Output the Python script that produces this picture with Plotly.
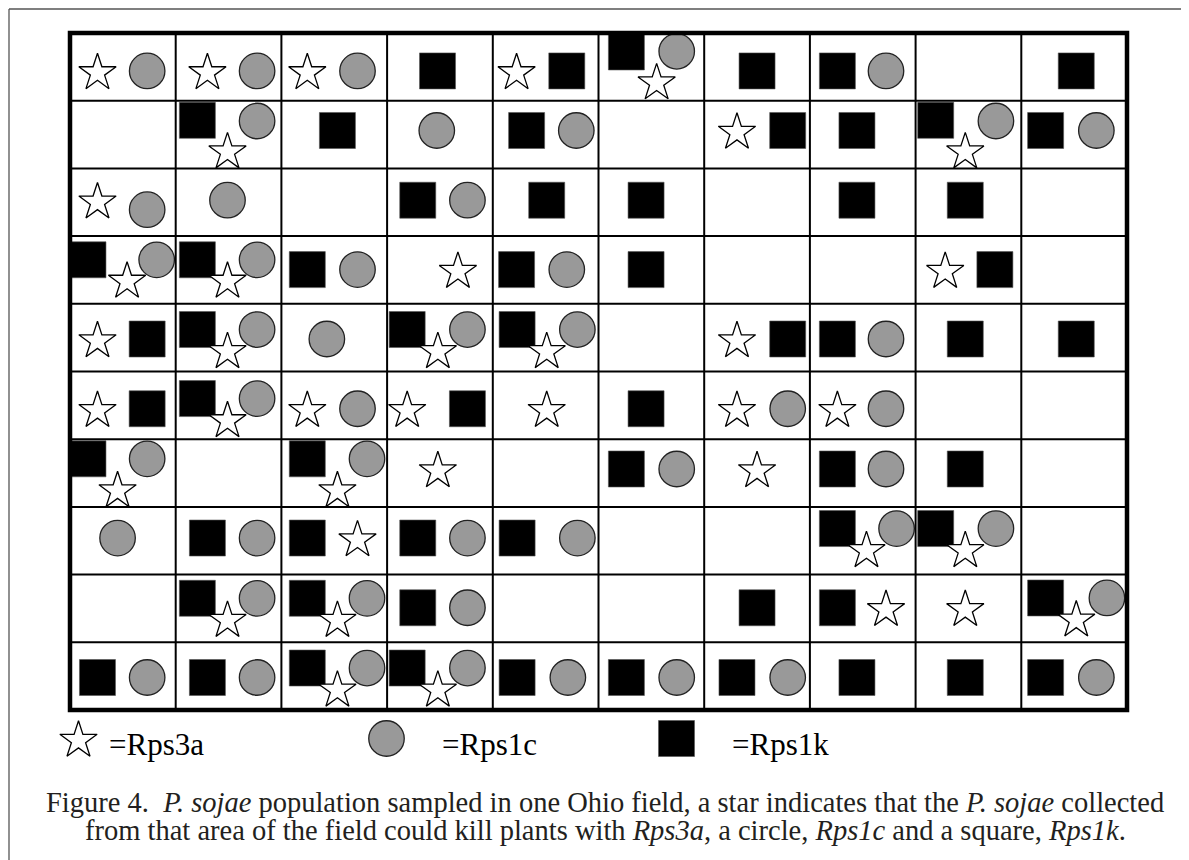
import plotly.graph_objects as go

# ---------------- DATA ----------------
# 10 x 10 field grid, row 1 at the top; 1 = the isolate from that area could kill plants with the gene
ROW_LABELS = list(range(1, 11))
COL_LABELS = list(range(1, 11))

RPS3A_STAR = [
    [1, 1, 1, 0, 1, 1, 0, 0, 0, 0],
    [0, 1, 0, 0, 0, 0, 1, 0, 1, 0],
    [1, 0, 0, 0, 0, 0, 0, 0, 0, 0],
    [1, 1, 0, 1, 0, 0, 0, 0, 1, 0],
    [1, 1, 0, 1, 1, 0, 1, 0, 0, 0],
    [1, 1, 1, 1, 1, 0, 1, 1, 0, 0],
    [1, 0, 1, 1, 0, 0, 1, 0, 0, 0],
    [0, 0, 1, 0, 0, 0, 0, 1, 1, 0],
    [0, 1, 1, 0, 0, 0, 0, 1, 1, 1],
    [0, 0, 1, 1, 0, 0, 0, 0, 0, 0],
]
RPS1C_CIRCLE = [
    [1, 1, 1, 0, 0, 1, 0, 1, 0, 0],
    [0, 1, 0, 1, 1, 0, 0, 0, 1, 1],
    [1, 1, 0, 1, 0, 0, 0, 0, 0, 0],
    [1, 1, 1, 0, 1, 0, 0, 0, 0, 0],
    [0, 1, 1, 1, 1, 0, 0, 1, 0, 0],
    [0, 1, 1, 0, 0, 0, 1, 1, 0, 0],
    [1, 0, 1, 0, 0, 1, 0, 1, 0, 0],
    [1, 1, 0, 1, 1, 0, 0, 1, 1, 0],
    [0, 1, 1, 1, 0, 0, 0, 0, 0, 1],
    [1, 1, 1, 1, 1, 1, 1, 0, 0, 1],
]
RPS1K_SQUARE = [
    [0, 0, 0, 1, 1, 1, 1, 1, 0, 1],
    [0, 1, 1, 0, 1, 0, 1, 1, 1, 1],
    [0, 0, 0, 1, 1, 1, 0, 1, 1, 0],
    [1, 1, 1, 0, 1, 1, 0, 0, 1, 0],
    [1, 1, 0, 1, 1, 0, 1, 1, 1, 1],
    [1, 1, 0, 1, 0, 1, 0, 0, 0, 0],
    [1, 0, 1, 0, 0, 1, 0, 1, 1, 0],
    [0, 1, 1, 1, 1, 0, 0, 1, 1, 0],
    [0, 1, 1, 1, 0, 0, 1, 1, 0, 1],
    [1, 1, 1, 1, 1, 1, 1, 1, 1, 1],
]
LEGEND_LABELS = ["=Rps3a", "=Rps1c", "=Rps1k"]
CAPTION_1 = ("Figure 4.\u00a0\u00a0<i>P. sojae</i> population sampled in one Ohio field, "
             "a star indicates that the <i>P. sojae</i> collected")
CAPTION_2 = ("from that area of the field could kill plants with <i>Rps3a</i>, a circle, "
             "<i>Rps1c</i> and a square, <i>Rps1k</i>.")

# ---------------- LAYOUT (placement of symbols inside each cell, fractions of a cell) ----------------
S, C, Q = "star", "circle", "square"
CELL_LAYOUT = {
    (0, 0): {S: (.26, .56), C: (.73, .56)},
    (0, 1): {S: (.30, .56), C: (.77, .56)},
    (0, 2): {S: (.245, .56), C: (.72, .56)},
    (0, 3): {Q: (.477, .56)},
    (0, 4): {S: (.225, .56), Q: (.70, .56)},
    (0, 5): {Q: (.264, .28), C: (.74, .27), S: (.55, .71)},
    (0, 6): {Q: (.50, .56)},
    (0, 7): {Q: (.26, .56), C: (.72, .56)},
    (0, 9): {Q: (.52, .56)},

    (1, 1): {Q: (.205, .29), C: (.77, .30), S: (.49, .73)},
    (1, 2): {Q: (.53, .44)},
    (1, 3): {C: (.47, .44)},
    (1, 4): {Q: (.32, .44), C: (.79, .44)},
    (1, 6): {S: (.31, .44), Q: (.79, .44)},
    (1, 7): {Q: (.445, .44)},
    (1, 8): {Q: (.19, .29), C: (.76, .30), S: (.47, .73)},
    (1, 9): {Q: (.23, .44), C: (.71, .44)},

    (2, 0): {S: (.26, .47), C: (.73, .61)},
    (2, 1): {C: (.49, .47)},
    (2, 3): {Q: (.29, .47), C: (.76, .47)},
    (2, 4): {Q: (.51, .47)},
    (2, 5): {Q: (.45, .47)},
    (2, 7): {Q: (.445, .47)},
    (2, 8): {Q: (.47, .47)},

    (3, 0): {Q: (.17, .35), C: (.82, .35), S: (.54, .64)},
    (3, 1): {Q: (.205, .35), C: (.77, .35), S: (.49, .64)},
    (3, 2): {Q: (.245, .495), C: (.72, .495)},
    (3, 3): {S: (.67, .495)},
    (3, 4): {Q: (.225, .495), C: (.70, .495)},
    (3, 5): {Q: (.45, .495)},
    (3, 8): {S: (.28, .495), Q: (.75, .495)},

    (4, 0): {S: (.26, .52), Q: (.73, .52)},
    (4, 1): {Q: (.205, .38), C: (.77, .38), S: (.49, .68)},
    (4, 2): {C: (.43, .52)},
    (4, 3): {Q: (.19, .38), C: (.76, .38), S: (.48, .68)},
    (4, 4): {Q: (.23, .38), C: (.80, .38), S: (.51, .68)},
    (4, 6): {S: (.31, .52), Q: (.79, .52)},
    (4, 7): {Q: (.26, .52), C: (.72, .52)},
    (4, 8): {Q: (.47, .52)},
    (4, 9): {Q: (.52, .52)},

    (5, 0): {S: (.26, .55), Q: (.73, .55)},
    (5, 1): {Q: (.205, .40), C: (.77, .40), S: (.49, .70)},
    (5, 2): {S: (.245, .55), C: (.72, .55)},
    (5, 3): {S: (.19, .55), Q: (.76, .55)},
    (5, 4): {S: (.51, .55)},
    (5, 5): {Q: (.45, .55)},
    (5, 6): {S: (.31, .55), C: (.79, .55)},
    (5, 7): {S: (.26, .55), C: (.72, .55)},

    (6, 0): {Q: (.17, .29), C: (.73, .29), S: (.45, .735)},
    (6, 2): {Q: (.245, .29), C: (.81, .29), S: (.53, .735)},
    (6, 3): {S: (.48, .44)},
    (6, 5): {Q: (.264, .44), C: (.74, .44)},
    (6, 6): {S: (.50, .44)},
    (6, 7): {Q: (.26, .44), C: (.72, .44)},
    (6, 8): {Q: (.47, .44)},

    (7, 0): {C: (.45, .46)},
    (7, 1): {Q: (.30, .46), C: (.77, .46)},
    (7, 2): {Q: (.245, .46), S: (.72, .46)},
    (7, 3): {Q: (.29, .46), C: (.76, .46)},
    (7, 4): {Q: (.23, .46), C: (.80, .46)},
    (7, 7): {Q: (.26, .32), C: (.82, .32), S: (.535, .62)},
    (7, 8): {Q: (.19, .32), C: (.76, .32), S: (.47, .62)},

    (8, 1): {Q: (.205, .35), C: (.77, .35), S: (.49, .65)},
    (8, 2): {Q: (.245, .35), C: (.81, .35), S: (.53, .65)},
    (8, 3): {Q: (.29, .49), C: (.76, .49)},
    (8, 6): {Q: (.50, .49)},
    (8, 7): {Q: (.26, .49), S: (.72, .49)},
    (8, 8): {S: (.47, .49)},
    (8, 9): {Q: (.23, .345), C: (.81, .345), S: (.52, .645)},

    (9, 0): {Q: (.26, .52), C: (.73, .52)},
    (9, 1): {Q: (.30, .52), C: (.77, .52)},
    (9, 2): {Q: (.245, .38), C: (.81, .38), S: (.53, .68)},
    (9, 3): {Q: (.19, .38), C: (.76, .38), S: (.48, .68)},
    (9, 4): {Q: (.23, .52), C: (.71, .52)},
    (9, 5): {Q: (.264, .52), C: (.74, .52)},
    (9, 6): {Q: (.31, .52), C: (.79, .52)},
    (9, 7): {Q: (.445, .52)},
    (9, 8): {Q: (.47, .52)},
    (9, 9): {Q: (.23, .52), C: (.71, .52)},
}

# page pixel geometry (window coordinates) ; the html body adds an 8px margin
PAGE_OFF = 8
W, H = 1189 - PAGE_OFF, 860 - PAGE_OFF
GRID_L, GRID_R, GRID_T, GRID_B = 70 - PAGE_OFF, 1127 - PAGE_OFF, 33 - PAGE_OFF, 710 - PAGE_OFF
NR, NC = len(ROW_LABELS), len(COL_LABELS)
CW = (GRID_R - GRID_L) / NC
RH = (GRID_B - GRID_T) / NR

STAR_SIZE, CIRCLE_SIZE, SQUARE_SIZE = 28, 35.5, 36
STAR_DY = 1.9 / RH  # plotly star anchor sits below its visual centre

STYLE = {
    S: dict(symbol="star", size=STAR_SIZE, color="white", line=dict(color="black", width=1.3)),
    C: dict(symbol="circle", size=CIRCLE_SIZE, color="#999999", line=dict(color="#222222", width=1.3)),
    Q: dict(symbol="square", size=SQUARE_SIZE, color="black", line=dict(color="#555555", width=0.6)),
}
LEGEND_PX = {S: (78.5, 738.5), C: (386.5, 738.5), Q: (676.5, 738.5)}
LEGEND_TEXT_X = [107, 440, 730]
LEGEND_TEXT_Y = 744
CAPTION_X = 605
CAPTION_Y = (802, 830)
CAPTION_SIZE = 28.5
FRAME_POS = 9  # as close to the window edge as the page margin allows

def px_to_data(px, py):
    return (px - PAGE_OFF - GRID_L) / CW, (py - PAGE_OFF - GRID_T) / RH

def paper_x(px):
    return (px - PAGE_OFF) / W

def paper_y(py):
    return 1 - (py - PAGE_OFF) / H

PRESENCE = {S: RPS3A_STAR, C: RPS1C_CIRCLE, Q: RPS1K_SQUARE}
DEFAULT_POS = {S: (.26, .5), C: (.73, .5), Q: (.5, .5)}

fig = go.Figure()

for kind in (Q, C, S):  # draw order: squares, circles, stars on top
    xs, ys = [], []
    for r in range(NR):
        for c in range(NC):
            if PRESENCE[kind][r][c]:
                fx, fy = CELL_LAYOUT.get((r, c), {}).get(kind, DEFAULT_POS[kind])
                xs.append(c + fx)
                ys.append(r + fy + (STAR_DY if kind == S else 0))
    lx, ly = px_to_data(*LEGEND_PX[kind])
    xs.append(lx)
    ys.append(ly + (STAR_DY if kind == S else 0))
    fig.add_trace(go.Scatter(x=xs, y=ys, mode="markers", marker=STYLE[kind],
                             hoverinfo="skip", showlegend=False, cliponaxis=False))

shapes = []
for i in range(1, NC):
    shapes.append(dict(type="line", x0=i, x1=i, y0=0, y1=NR, xref="x", yref="y",
                       line=dict(color="black", width=2)))
for j in range(1, NR):
    shapes.append(dict(type="line", x0=0, x1=NC, y0=j, y1=j, xref="x", yref="y",
                       line=dict(color="black", width=2)))
shapes.append(dict(type="rect", x0=0, x1=NC, y0=0, y1=NR, xref="x", yref="y",
                   line=dict(color="black", width=4.5)))
# page frame (left and top rules)
shapes.append(dict(type="line", x0=paper_x(FRAME_POS), x1=paper_x(FRAME_POS), y0=0, y1=paper_y(FRAME_POS),
                   xref="paper", yref="paper", line=dict(color="#555555", width=1.3)))
shapes.append(dict(type="line", x0=paper_x(FRAME_POS), x1=1, y0=paper_y(FRAME_POS), y1=paper_y(FRAME_POS),
                   xref="paper", yref="paper", line=dict(color="#555555", width=1.3)))

annotations = []
for label, tx in zip(LEGEND_LABELS, LEGEND_TEXT_X):
    annotations.append(dict(text=label, x=paper_x(tx), y=paper_y(LEGEND_TEXT_Y), xref="paper", yref="paper",
                            xanchor="left", yanchor="middle", showarrow=False,
                            font=dict(family="Liberation Serif", size=31, color="black")))
for line, ty in zip((CAPTION_1, CAPTION_2), CAPTION_Y):
    annotations.append(dict(text=line, x=paper_x(CAPTION_X), y=paper_y(ty), xref="paper", yref="paper",
                            xanchor="center", yanchor="middle", showarrow=False,
                            font=dict(family="Liberation Serif", size=CAPTION_SIZE, color="#231f20")))

fig.update_layout(
    width=W, height=H, margin=dict(l=0, r=0, t=0, b=0),
    paper_bgcolor="white", plot_bgcolor="white",
    xaxis=dict(range=[-GRID_L / CW, (W - GRID_L) / CW], visible=False, fixedrange=True),
    yaxis=dict(range=[(H - GRID_T) / RH, -GRID_T / RH], visible=False, fixedrange=True),
    shapes=shapes, annotations=annotations, showlegend=False,
)

fig.write_html("out.html")
